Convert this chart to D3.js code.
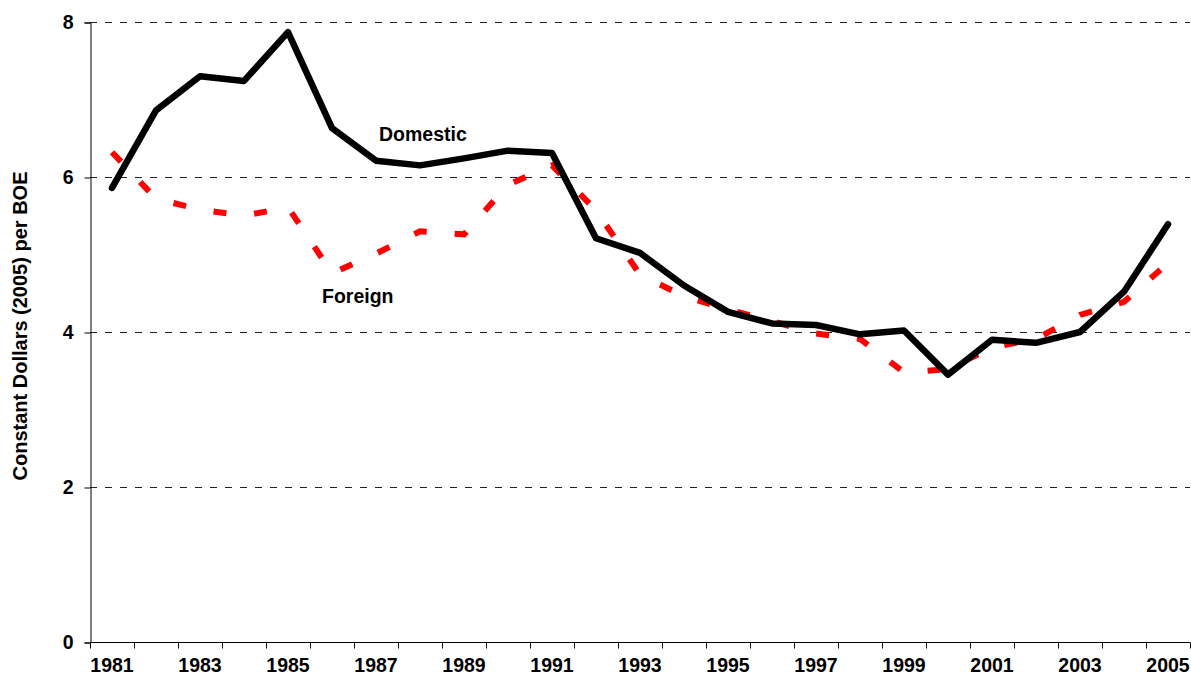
<!DOCTYPE html>
<html>
<head>
<meta charset="utf-8">
<script src="https://cdn.jsdelivr.net/npm/d3@7"></script>
<style>
  body { margin: 0; background: #fff; }
  text { font-family: "Liberation Sans", Arial, sans-serif; font-weight: bold; }
</style>
</head>
<body>
<div id="chart"></div>
<script>
var years = [1981, 1982, 1983, 1984, 1985, 1986, 1987, 1988, 1989, 1990,
             1991, 1992, 1993, 1994, 1995, 1996, 1997, 1998, 1999, 2000,
             2001, 2002, 2003, 2004, 2005];

// constant dollars (2005) per BOE
var domestic = [5.86, 6.86, 7.30, 7.24, 7.87, 6.63, 6.21, 6.15, 6.24, 6.34,
                6.31, 5.21, 5.02, 4.60, 4.26, 4.11, 4.09, 3.97, 4.02, 3.45,
                3.90, 3.86, 4.00, 4.52, 5.39];

var foreign = [6.32, 5.72, 5.58, 5.50, 5.61, 4.76, 5.01, 5.30, 5.26, 5.90,
               6.15, 5.57, 4.74, 4.46, 4.29, 4.14, 3.98, 3.91, 3.48, 3.52,
               3.80, 3.91, 4.22, 4.39, 4.89];

var yTicks = [0, 2, 4, 6, 8];
var yLabel = "Constant Dollars (2005) per BOE";

var width = 1191, height = 675;
// note: "top" is taken by window.top, so plot edges get their own names
var plotLeft = 90, plotRight = 1190, plotTop = 22, plotBottom = 642;

var svg = d3.select("#chart")
  .append("svg")
  .attr("width", width)
  .attr("height", height);

var x = d3.scaleBand().domain(years).range([plotLeft, plotRight]);
var y = d3.scaleLinear().domain([0, 8]).range([plotBottom, plotTop]);
var cx = (d) => x(d) + x.bandwidth() / 2;

// dashed gridlines (not at zero)
svg.append("g")
  .selectAll("line")
  .data(yTicks.filter((d) => d > 0))
  .enter()
  .append("line")
  .attr("x1", plotLeft)
  .attr("x2", plotRight)
  .attr("y1", (d) => Math.round(y(d)) + 0.5)
  .attr("y2", (d) => Math.round(y(d)) + 0.5)
  .attr("stroke", "#222")
  .attr("stroke-dasharray", "7,8");

// y axis
var yAxis = svg.append("g")
  .attr("transform", "translate(" + (plotLeft + 0.5) + ",0.5)")
  .call(d3.axisLeft(y).tickValues(yTicks).tickSize(6).tickPadding(11).tickFormat(d3.format("d")));
yAxis.select(".domain").attr("stroke", "#000");
yAxis.selectAll("text").attr("font-size", 19.5).attr("fill", "#000").attr("font-family", null);

// x axis: ticks on band edges, labels every other year
var xAxis = svg.append("g")
  .attr("transform", "translate(0," + (plotBottom + 0.5) + ")");
xAxis.append("line")
  .attr("x1", plotLeft)
  .attr("x2", plotRight)
  .attr("stroke", "#000");
xAxis.selectAll("line.tick")
  .data(years.concat(["end"]))
  .enter()
  .append("line")
  .attr("class", "tick")
  .attr("x1", (d) => (d === "end" ? plotRight : Math.round(x(d))) + 0.5)
  .attr("x2", (d) => (d === "end" ? plotRight : Math.round(x(d))) + 0.5)
  .attr("y1", 0)
  .attr("y2", 6)
  .attr("stroke", "#000");
xAxis.selectAll("text")
  .data(years.filter((d, i) => i % 2 == 0))
  .enter()
  .append("text")
  .attr("x", cx)
  .attr("y", 29.5)
  .attr("text-anchor", "middle")
  .attr("font-size", 19.5)
  .text((d) => d);

// y axis title
svg.append("text")
  .attr("transform", "translate(27,326) rotate(-90)")
  .attr("text-anchor", "middle")
  .attr("font-size", 20)
  .text(yLabel);

var line = d3.line()
  .x((d, i) => cx(years[i]))
  .y((d) => y(d));

svg.append("path")
  .datum(foreign)
  .attr("d", line)
  .attr("fill", "none")
  .attr("stroke", "#ff0000")
  .attr("stroke-width", 6)
  .attr("stroke-dasharray", "13,28");

svg.append("path")
  .datum(domestic)
  .attr("d", line)
  .attr("fill", "none")
  .attr("stroke", "#000")
  .attr("stroke-width", 6.5)
  .attr("stroke-linecap", "round")
  .attr("stroke-linejoin", "round");

// series labels
svg.append("text")
  .attr("x", 379)
  .attr("y", 140.5)
  .attr("font-size", 19.5)
  .text("Domestic");

svg.append("text")
  .attr("x", 322)
  .attr("y", 303)
  .attr("font-size", 19.5)
  .text("Foreign");
</script>
</body>
</html>
